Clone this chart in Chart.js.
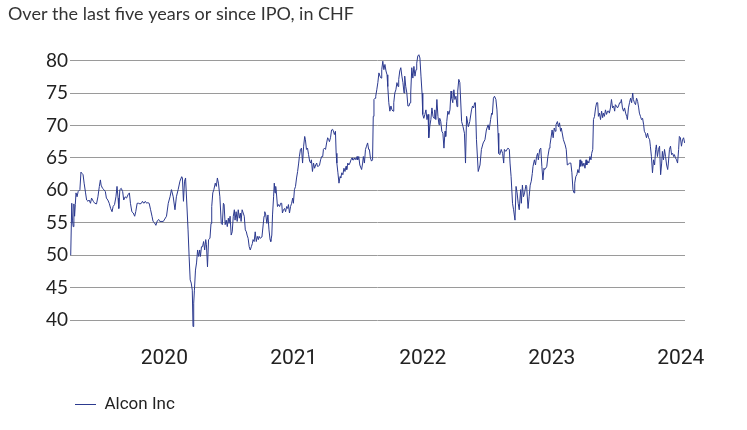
<!DOCTYPE html>
<html>
<head>
<meta charset="utf-8">
<script src="https://cdn.jsdelivr.net/npm/chart.js@4.4.1/dist/chart.umd.min.js"></script>
<style>
  html, body { margin: 0; padding: 0; background: #fff; }
  #wrap { width: 747px; height: 430px; }
</style>
</head>
<body>
<div id="wrap"><canvas id="chart" width="747" height="430"></canvas></div>
<script>
// Alcon Inc share price in CHF since the IPO (9 April 2019)
var titleText = 'Over the last five years or since IPO, in CHF';
var seriesName = 'Alcon Inc';
var ipoDate = Date.UTC(2019, 3, 9);
var tickYears = [2020, 2021, 2022, 2023, 2024];
var priceTicks = [40, 45, 50, 55, 60, 65, 70, 75, 80];

// days after the IPO
var days = [
  2, 5, 7, 9, 11, 13, 15, 17, 20, 23, 28, 31, 34, 37, 40, 44, 47, 51, 54, 58,
  61, 66, 70, 75, 79, 83, 86, 88, 92, 96, 100, 103, 107, 111, 115, 119, 122, 126, 130, 133,
  136, 138, 141, 145, 149, 152, 156, 160, 164, 168, 171, 175, 179, 183, 186, 190, 194, 198, 202, 205,
  209, 213, 217, 220, 224, 228, 232, 235, 239, 243, 247, 251, 254,
  264, 273, 278, 283, 287, 292, 297, 301, 306, 311, 316, 318, 321, 324, 327, 330, 334, 337, 340, 343,
  346, 348, 350, 352, 355, 358, 361, 364, 367, 369, 372, 375, 378, 381, 384, 386, 389, 392, 396, 399,
  401, 404, 407, 411, 414, 417, 420, 424, 428, 431, 434, 436, 439, 442, 445, 448, 450, 453, 456, 459,
  462, 465, 467, 470, 473, 476, 479, 482, 484, 487, 490, 493, 496, 499, 501, 504, 507, 510, 513, 516,
  518, 521, 524, 527, 530, 533, 535, 538, 543,
  549, 551, 554, 557, 560, 563, 566, 568, 571, 573, 576, 578, 580, 582, 584, 587, 590, 593, 596, 599,
  601, 604, 607, 610, 613, 616, 618, 621, 624, 627, 630, 632, 635, 638, 641, 644, 647, 649, 652, 655,
  658, 661, 664, 666, 669, 672, 675, 678, 681, 683, 686, 689, 692, 695, 698, 700, 703, 706, 709, 712,
  715, 717, 720, 723, 726, 729, 732, 734, 737, 740, 743, 746, 748, 751, 753, 755, 758, 761, 764, 766,
  769, 772, 775, 778, 781, 783, 786, 789, 792, 795, 798, 800, 803, 806, 809, 812, 814, 817,
  820, 825, 828, 830, 833, 836, 839, 842, 845, 847, 850, 853, 856, 858, 860, 863, 865, 868, 871, 874,
  877, 880, 882, 885, 888, 891, 894, 897, 899, 902, 905, 908, 911, 914, 916, 919, 922, 925, 928, 930,
  933, 936, 939, 942, 945, 947, 950, 953, 956, 959, 962, 964, 967, 970, 973, 976, 979, 981, 984, 987,
  990, 993, 996, 998, 1001, 1004, 1007, 1010, 1013, 1015, 1018, 1021, 1024, 1027, 1030, 1032, 1035, 1038, 1041, 1044,
  1046, 1049, 1052, 1055, 1058, 1061, 1063, 1066, 1069, 1072, 1075, 1078, 1080, 1083, 1086, 1089, 1092, 1095, 1097, 1100,
  1103, 1108, 1112, 1116, 1119, 1122, 1127, 1131, 1136, 1139, 1142, 1145, 1147, 1150, 1155, 1160, 1164, 1169, 1174, 1178,
  1183, 1186, 1190, 1193, 1195, 1198, 1201, 1205, 1208, 1211, 1213, 1216, 1220, 1224, 1227, 1229, 1233, 1239, 1243, 1245,
  1248, 1252, 1255, 1259, 1262, 1265, 1268, 1271, 1275, 1277, 1280, 1283, 1286, 1290, 1292, 1296, 1299, 1302, 1305, 1308,
  1310, 1314, 1317, 1320, 1323, 1325, 1329, 1332, 1335, 1338, 1341, 1343, 1346, 1349, 1352, 1356, 1358, 1361, 1364, 1367,
  1370, 1373, 1375, 1379, 1382, 1385, 1388, 1390, 1396, 1401, 1404, 1407, 1414,
  1417, 1420, 1423, 1426, 1428, 1431, 1434, 1437, 1440, 1443, 1445, 1448, 1451, 1454, 1457, 1460, 1462, 1465, 1468, 1471,
  1474, 1476, 1479, 1481, 1484, 1487, 1490, 1493, 1495, 1498, 1501, 1504, 1507, 1509, 1512, 1515, 1518, 1521, 1524, 1526,
  1529, 1532, 1535, 1538, 1541, 1543, 1546, 1549, 1552, 1555, 1558, 1560, 1563, 1566, 1569, 1572, 1575, 1577, 1580, 1583,
  1586, 1589, 1592, 1594, 1597, 1600, 1603, 1606, 1609, 1611, 1614, 1617, 1620, 1623, 1625, 1628, 1631, 1634, 1637, 1640,
  1642, 1645, 1648, 1651, 1654, 1657, 1659, 1662, 1665, 1668, 1671, 1674, 1676, 1679, 1682, 1685, 1688, 1691, 1693, 1696,
  1699, 1702, 1705, 1708, 1710, 1713, 1716, 1719, 1722, 1724, 1727, 1730, 1733, 1736, 1739
];

// closing price, CHF
var prices = [
  50.0, 58.0, 55.4, 54.4, 57.9, 56.0, 57.8, 59.6, 59.0, 59.8, 60.1, 62.8, 62.6, 62.4, 61.1, 59.6, 58.5, 58.3, 58.5, 58.0,
  58.8, 58.3, 58.0, 57.9, 59.0, 60.6, 61.6, 60.8, 60.3, 60.1, 59.8, 58.8, 58.5, 58.0, 57.2, 56.7, 57.5, 57.8, 59.0, 60.6,
  58.8, 57.2, 60.1, 60.3, 59.8, 58.5, 59.0, 58.8, 59.3, 59.6, 58.0, 56.7, 56.5, 56.0, 56.7, 58.0, 58.0, 57.9, 58.0, 58.3,
  58.0, 58.3, 58.0, 58.1, 58.0, 57.0, 56.0, 55.2, 55.0, 54.6, 55.3, 55.5, 55.2,
  55.2, 56.0, 58.0, 59.0, 60.1, 59.0, 57.0, 59.0, 60.1, 61.4, 62.1, 61.9, 58.3, 61.4, 61.9, 58.5, 53.9, 49.8, 46.2, 45.7,
  44.6, 39.0, 42.6, 44.6, 47.7, 48.8, 50.8, 49.8, 50.8, 49.8, 51.3, 51.3, 52.1, 50.8, 52.4, 51.6, 48.2, 52.4, 52.6, 54.9,
  57.5, 59.6, 60.1, 61.1, 60.6, 61.9, 61.1, 59.0, 54.9, 54.7, 58.0, 57.8, 54.7, 55.4, 54.4, 55.7, 54.9, 56.0, 53.1, 53.6,
  56.0, 57.0, 55.4, 56.7, 55.2, 57.0, 55.7, 56.5, 55.2, 57.0, 56.5, 56.0, 53.9, 53.6, 53.1, 52.6, 51.3, 50.8, 51.3, 51.8,
  52.4, 52.1, 53.6, 52.1, 52.9, 52.4, 52.9, 52.6, 52.8,
  56.0, 56.7, 56.2, 54.9, 56.2, 53.9, 52.4, 52.1, 53.1, 56.2, 59.0, 61.1, 59.6, 60.6, 59.6, 57.5, 57.8, 57.5, 58.0, 58.0,
  56.5, 57.0, 57.2, 56.7, 57.5, 57.2, 57.8, 56.5, 57.5, 58.0, 58.8, 58.0, 60.1, 60.6, 61.9, 62.9, 64.2, 65.2, 66.3, 66.5,
  64.2, 66.8, 68.3, 67.8, 66.3, 66.5, 65.5, 64.5, 64.2, 64.7, 62.9, 64.2, 63.4, 63.9, 64.2, 63.7, 63.7, 63.9, 64.7, 65.2,
  65.2, 66.3, 66.5, 66.3, 67.3, 68.1, 67.8, 67.5, 68.1, 69.3, 69.4, 69.0, 68.6, 69.1, 65.7, 64.2, 62.7, 61.1, 62.1, 61.9,
  62.7, 62.4, 63.4, 62.9, 63.7, 63.2, 64.2, 63.9, 64.2, 64.7, 65.0, 64.7, 64.7, 65.0, 64.7, 65.2, 64.7, 65.2,
  63.9, 63.2, 64.2, 65.2, 64.2, 66.3, 66.8, 67.3, 66.3, 66.3, 65.0, 64.5, 64.7, 71.4, 74.0, 74.2, 74.5, 75.5, 76.6, 78.1,
  77.6, 77.3, 78.6, 79.9, 78.6, 79.4, 78.4, 77.8, 76.0, 73.5, 72.2, 73.0, 72.4, 72.2, 73.5, 75.0, 75.5, 76.6, 76.0, 77.1,
  78.4, 78.9, 77.6, 76.6, 75.0, 77.6, 76.0, 75.0, 73.0, 73.0, 73.5, 75.0, 78.9, 77.3, 79.1, 77.6, 78.6, 79.6, 80.7, 80.9,
  80.4, 77.6, 75.0, 71.7, 71.1, 71.7, 72.4, 70.9, 71.7, 68.1, 69.9, 70.9, 72.7, 71.4, 71.1, 72.4, 70.9, 74.0, 71.4, 70.1,
  71.1, 70.6, 69.1, 68.8, 66.5, 69.1, 68.3, 70.6, 72.2, 71.7, 72.4, 75.3, 74.2, 73.5, 75.5, 74.0, 74.5, 72.9, 75.3, 77.1,
  76.6, 70.6, 69.8, 68.8, 64.2, 71.4, 69.8, 70.6, 72.4, 73.0, 72.7, 73.5, 73.5, 67.8, 62.9, 63.9, 66.3, 67.3, 67.8, 69.3,
  70.1, 69.3, 70.9, 71.9, 71.7, 74.2, 74.5, 74.0, 72.4, 68.8, 65.7, 65.5, 66.3, 65.7, 64.2, 66.3, 66.0, 66.5, 66.3, 64.2,
  62.1, 58.0, 57.0, 55.4, 60.6, 59.6, 58.0, 57.0, 60.1, 58.0, 60.8, 59.0, 59.6, 60.8, 60.6, 57.2, 59.0, 60.8, 61.4, 62.6,
  63.7, 64.7, 63.9, 65.2, 65.7, 64.7, 66.3, 66.5, 63.7, 61.6, 63.4, 63.2, 63.4, 63.7, 65.2, 66.5, 67.0, 68.1, 69.3, 68.1,
  69.6, 69.1, 70.1, 70.6, 69.8, 70.4, 69.1, 69.6, 67.8, 67.0, 66.3, 63.9, 64.2,
  64.2, 62.7, 60.1, 59.6, 61.1, 62.1, 62.4, 63.2, 62.7, 64.7, 63.7, 64.5, 63.7, 64.2, 63.4, 64.7, 63.9, 64.5, 64.2, 65.2,
  64.7, 65.7, 66.3, 70.9, 71.4, 72.7, 73.5, 73.5, 71.4, 71.9, 70.9, 72.2, 71.2, 71.9, 71.4, 72.4, 71.7, 72.2, 72.2, 71.9,
  72.7, 74.0, 72.7, 73.0, 72.2, 73.2, 73.0, 72.7, 73.0, 73.5, 73.5, 74.0, 72.7, 72.2, 72.7, 71.9, 71.4, 70.9, 72.7, 73.5,
  74.2, 73.5, 75.0, 74.0, 73.5, 73.2, 74.2, 73.7, 72.7, 71.9, 71.4, 70.9, 71.1, 70.1, 69.1, 68.8, 68.1, 68.8, 68.1, 67.8,
  66.8, 65.2, 62.7, 64.7, 63.9, 66.3, 67.0, 65.2, 66.3, 66.8, 62.4, 64.2, 66.0, 64.7, 66.3, 65.2, 63.9, 63.2, 64.2, 66.3,
  66.8, 65.5, 65.7, 65.2, 65.5, 65.0, 64.7, 64.2, 66.3, 68.3, 68.1, 66.8, 67.8, 68.1, 67.3
];

var lineColor = '#2c3a8f';

var points = days.map(function(d, i) { return { x: d, y: prices[i] }; });
var yearDays = tickYears.map(function(y) { return (Date.UTC(y, 0, 1) - ipoDate) / 864e5; });

new Chart(document.getElementById('chart'), {
  type: 'line',
  data: {
    datasets: [{
      label: seriesName,
      data: points,
      borderColor: lineColor,
      backgroundColor: lineColor,
      borderWidth: 1,
      pointRadius: 0,
      tension: 0,
      fill: false
    }]
  },
  options: {
    responsive: false,
    animation: false,
    layout: { padding: { left: 8, right: 62, top: 0, bottom: 7 } },
    plugins: {
      title: {
        display: true,
        text: titleText,
        align: 'start',
        color: '#333',
        font: { family: 'Lato', size: 18, weight: 'normal' },
        padding: { top: 3, bottom: 23 }
      },
      legend: {
        position: 'bottom',
        align: 'start',
        fullSize: false,
        labels: {
          usePointStyle: true,
          pointStyle: 'line',
          pointStyleWidth: 21,
          color: '#222',
          font: { family: 'Roboto', size: 17 },
          padding: 5
        }
      },
      tooltip: { enabled: false }
    },
    scales: {
      x: {
        type: 'linear',
        min: 0,
        max: 1740,
        grid: { display: false, drawTicks: false },
        border: { display: false },
        afterBuildTicks: function(scale) {
          scale.ticks = yearDays.map(function(v) { return { value: v }; });
        },
        afterFit: function(scale) { scale.height = 58; },
        ticks: {
          autoSkip: false,
          maxRotation: 0,
          padding: 13,
          color: '#222',
          font: { family: 'Roboto', size: 21 },
          callback: function(v) {
            var i = yearDays.indexOf(v);
            return i >= 0 ? String(tickYears[i]) : '';
          }
        }
      },
      y: {
        min: 38,
        max: 82,
        grid: { color: '#9a9a9a', lineWidth: 1, drawTicks: false },
        border: { display: false },
        afterBuildTicks: function(scale) {
          scale.ticks = priceTicks.map(function(v) { return { value: v }; });
        },
        afterFit: function(scale) { scale.width = 62; },
        ticks: {
          padding: 2,
          color: '#222',
          font: { family: 'Lato', size: 19 }
        }
      }
    }
  }
});
</script>
</body>
</html>
